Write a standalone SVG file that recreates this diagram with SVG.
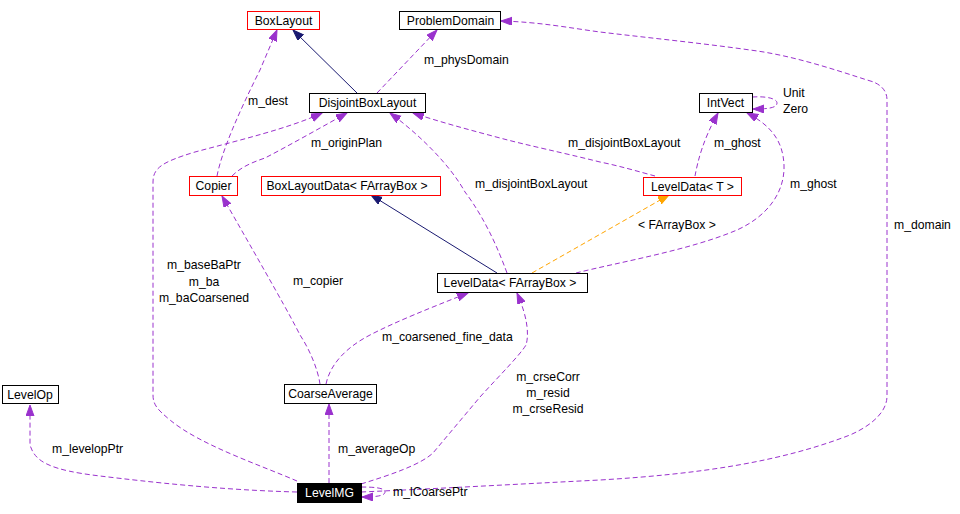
<svg xmlns="http://www.w3.org/2000/svg" width="960" height="514" viewBox="0 0 960 514">
<defs>
<style>
text{font-family:"Liberation Sans",Arial,sans-serif;font-size:12.2px;fill:#000}
.n rect{fill:#fff;stroke:#000;stroke-width:1}
.n.red rect{stroke:#f00}
.n text{text-anchor:middle}
.e{fill:none;stroke:#9a32cd;stroke-width:1;stroke-dasharray:5,3;marker-end:url(#hp)}
.s{fill:none;stroke:#191970;stroke-width:1;marker-end:url(#hn)}
.o{fill:none;stroke:#ffa500;stroke-width:1;stroke-dasharray:5,3;marker-end:url(#ho)}
.lbl{text-anchor:middle}
</style>
<marker id="hp" markerUnits="userSpaceOnUse" markerWidth="12" markerHeight="10" refX="11" refY="4" orient="auto"><path d="M0,0 L11,4 L0,8 z" fill="#9a32cd" stroke="#9a32cd"/></marker>
<marker id="hn" markerUnits="userSpaceOnUse" markerWidth="12" markerHeight="10" refX="11" refY="4" orient="auto"><path d="M0,0 L11,4 L0,8 z" fill="#191970" stroke="#191970"/></marker>
<marker id="ho" markerUnits="userSpaceOnUse" markerWidth="12" markerHeight="10" refX="11" refY="4" orient="auto"><path d="M0,0 L11,4 L0,8 z" fill="#ffa500" stroke="#ffa500"/></marker>
</defs>
<rect width="960" height="514" fill="#fff"/>
<g id="edges">
<path class="s" d="M357,93 L293,30"/>
<path class="e" d="M377,93 L437,30"/>
<path class="e" d="M217,176 C222,150 240,110 260,70 L277,30"/>
<path class="e" d="M232,176 C240,168 250,163 265,158 C290,145 320,128 347,113"/>
<path class="e" d="M297,481 C260,465 200,445 170,420 C158,410 153,405 153,395 L153,182 C153,168 162,162 195,152 C240,140 290,128 322,113"/>
<path class="e" d="M507,273 C503,262 500,255 497,248 C487,225 475,205 465,192 C450,165 420,135 390,113"/>
<path class="e" d="M655,176 C640,172 620,166 600,162 C560,152 530,146 500,138 C470,130 440,122 413,113"/>
<path class="e" d="M695,176 C698,160 703,140 718,113"/>
<path class="e" d="M576,273 C620,262 690,250 737,230 C770,215 785,190 784,165 C783,140 770,125 747,113"/>
<path class="e" d="M752,97 C768,96 777,99 777,103 C777,108 768,109 753,109"/>
<path class="o" d="M532,273 L669,195"/>
<path class="s" d="M497,273 L371,195"/>
<path class="e" d="M320,384 C318,370 310,350 300,335 C290,315 270,280 222,196"/>
<path class="e" d="M326,384 C330,365 345,348 370,335 C395,322 430,308 468,293"/>
<path class="e" d="M329,483 L329,404"/>
<path class="e" d="M297,492 C220,490 150,482 100,476 C50,470 35,462 30,445 L30,405"/>
<path class="e" d="M361,484 C390,475 420,465 433,453 L480,397 C500,375 520,355 526,345 C529,335 528,318 517,293"/>
<path class="e" d="M361,487 C375,487 385,488 385,492 C385,496 375,497 362,497"/>
<path class="e" d="M361,492 C450,488 520,484 600,480 C700,474 780,462 850,435 C875,424 887,410 887,396 L887,100 C887,90 880,83 867,80 C830,68 790,55 750,50 C700,43 650,38 600,32 C570,28 540,22 501,21"/>
</g>
<g id="BoxLayout" class="n red"><rect x="247.5" y="11.5" width="72" height="18"/><text x="283.5" y="25">BoxLayout</text></g>
<g id="ProblemDomain" class="n"><rect x="399.5" y="11.5" width="101" height="18"/><text x="450.5" y="25">ProblemDomain</text></g>
<g id="DisjointBoxLayout" class="n"><rect x="309.5" y="93.5" width="116" height="19"/><text x="367.5" y="107">DisjointBoxLayout</text></g>
<g id="IntVect" class="n"><rect x="699.5" y="93.5" width="53" height="19"/><text x="725.5" y="107">IntVect</text></g>
<g id="LevelDataT" class="n red"><rect x="643.5" y="177.5" width="98" height="18"/><text x="692.5" y="191">LevelData&lt; T &gt;</text></g>
<g id="Copier" class="n red"><rect x="189.5" y="176.5" width="48" height="19"/><text x="213.5" y="190">Copier</text></g>
<g id="BoxLayoutData" class="n red"><rect x="261.5" y="176.5" width="179" height="19"/><text x="347" y="190">BoxLayoutData&lt; FArrayBox &gt;</text></g>
<g id="LevelDataFArrayBox" class="n"><rect x="437.5" y="273.5" width="150" height="19"/><text x="510" y="287">LevelData&lt; FArrayBox &gt;</text></g>
<g id="LevelOp" class="n"><rect x="2.5" y="385.5" width="56" height="18"/><text x="30" y="399">LevelOp</text></g>
<g id="CoarseAverage" class="n"><rect x="284.5" y="384.5" width="92" height="19"/><text x="330.5" y="398">CoarseAverage</text></g>
<g id="LevelMG"><rect x="297" y="483" width="65" height="20" fill="#000"/><text x="329.5" y="497" class="lbl" style="fill:#fff">LevelMG</text></g>
<g id="labels">
<text x="424" y="64">m_physDomain</text>
<text x="248" y="105">m_dest</text>
<text x="311" y="147">m_originPlan</text>
<text x="783" y="97">Unit</text>
<text x="783" y="113">Zero</text>
<text x="568" y="147">m_disjointBoxLayout</text>
<text x="714" y="147">m_ghost</text>
<text x="475" y="188">m_disjointBoxLayout</text>
<text x="790" y="188">m_ghost</text>
<text x="638" y="229">&lt; FArrayBox &gt;</text>
<text x="894" y="229">m_domain</text>
<text x="204" y="269" class="lbl">m_baseBaPtr</text>
<text x="204" y="286" class="lbl">m_ba</text>
<text x="204" y="302" class="lbl">m_baCoarsened</text>
<text x="293" y="285">m_copier</text>
<text x="382" y="341">m_coarsened_fine_data</text>
<text x="548" y="381" class="lbl">m_crseCorr</text>
<text x="548" y="397" class="lbl">m_resid</text>
<text x="548" y="413" class="lbl">m_crseResid</text>
<text x="52" y="453">m_levelopPtr</text>
<text x="338" y="453">m_averageOp</text>
<text x="393" y="496">m_lCoarsePtr</text>
</g>
</svg>
